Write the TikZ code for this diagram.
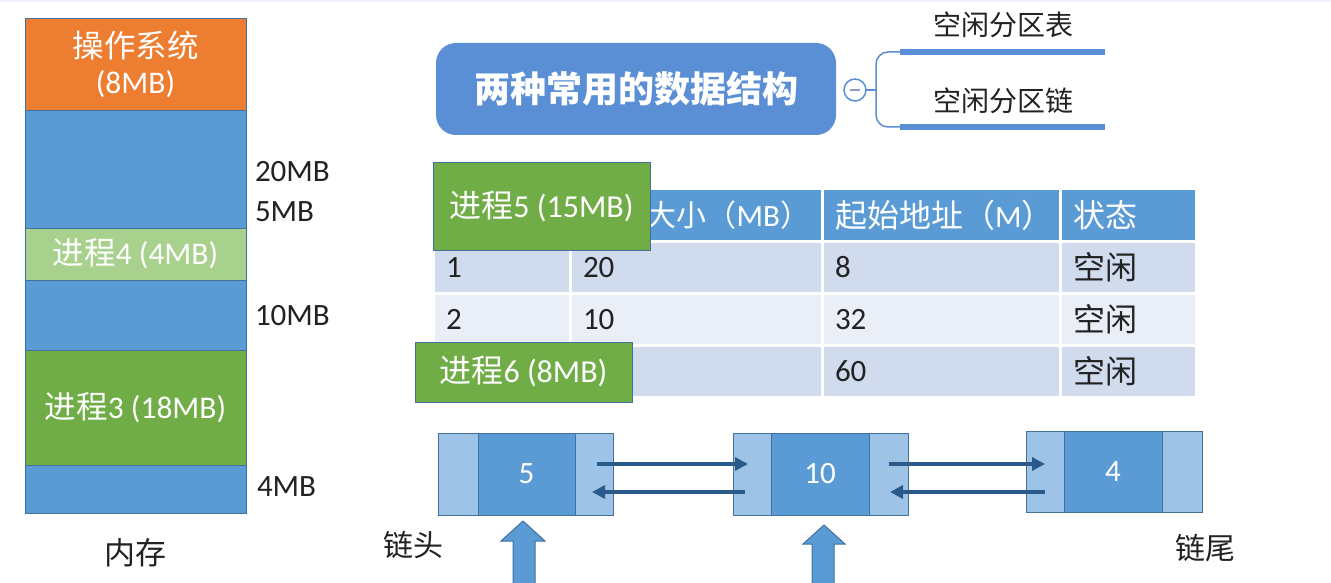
\documentclass[tikz,border=0pt]{standalone}
\usepackage{fontspec}
\setmainfont{Carlito}
\newfontfamily\cjk{Noto Sans CJK SC}
\usetikzlibrary{arrows.meta}
\definecolor{osor}{HTML}{ED7D31}
\definecolor{memblue}{HTML}{5B9BD5}
\definecolor{ltgreen}{HTML}{A9D18E}
\definecolor{dkgreen}{HTML}{70AD47}
\definecolor{edge}{HTML}{41719C}
\definecolor{mmblue}{HTML}{5A8FD5}
\definecolor{rowa}{HTML}{D0DBEE}
\definecolor{rowb}{HTML}{E9EEF7}
\definecolor{ltnode}{HTML}{9DC3E6}
\definecolor{ptr}{HTML}{2A5A8A}
\definecolor{txt}{HTML}{222222}
\definecolor{minus}{HTML}{8E9BBE}
\definecolor{topline}{HTML}{EEF2F8}
\newcommand\tcj[1]{{\cjk\fontsize{32}{36}\selectfont #1}}
\newcommand\tcjs[1]{{\cjk\fontsize{30}{36}\selectfont #1}}
\begin{document}
\begin{tikzpicture}[x=1pt,y=-1pt,
  every node/.style={inner sep=0pt,outer sep=0pt},
  blk/.style={draw=edge,line width=0.8pt,anchor=north west,minimum width=221pt,
    text=white,align=center,font=\fontsize{31.5}{36}\selectfont},
  lbl/.style={anchor=west,text=txt,font=\fontsize{31}{34}\selectfont},
  cell/.style={anchor=north west,inner xsep=11pt,align=left,
    font=\fontsize{31}{34}\selectfont},
  hd/.style={cell,fill=memblue,text=white,minimum height=50pt},
  ra/.style={cell,fill=rowa,text=txt,minimum height=49pt},
  rb/.style={cell,fill=rowb,text=txt,minimum height=49pt},
  proc/.style={draw=edge,line width=1pt,fill=dkgreen,anchor=north west,
    minimum width=217pt,text=white,font=\fontsize{32}{36}\selectfont},
  lnl/.style={draw=edge,line width=1pt,fill=ltnode,anchor=north west,minimum height=82pt},
  lnm/.style={draw=edge,line width=1pt,fill=memblue,anchor=north west,minimum height=82pt,
    text=white,font=\fontsize{31}{34}\selectfont},
  parr/.style={draw=ptr,line width=3.5pt,-{Triangle[length=13pt,width=13pt]}},
  bigarr/.style={draw=edge,line width=1pt,fill=memblue}
]
\useasboundingbox (0,0) rectangle (1331,583);
\clip (0,0) rectangle (1331,583);
\fill[white] (0,0) rectangle (1331,583);
\draw[topline,line width=2pt] (0,1) -- (1331,1);

% memory column
\node[blk,fill=osor,minimum height=92pt] (os) at (25,18) {{\cjk 操作系统}\\(8MB)};
\node[blk,fill=memblue,minimum height=118pt] (f1) at (25,110) {};
\node[blk,fill=ltgreen,minimum height=52pt] (p4) at (25,228) {{\cjk 进程}4 (4MB)};
\node[blk,fill=memblue,minimum height=70pt] (f2) at (25,280) {};
\node[blk,fill=dkgreen,minimum height=115pt] (p3) at (25,350) {{\cjk 进程}3 (18MB)};
\node[blk,fill=memblue,minimum height=48pt] (f3) at (25,465) {};
\node[lbl] (l20) at (255,172) {20MB};
\node[lbl] (l5) at (255,212) {5MB};
\node[lbl] (l10) at (255,316) {10MB};
\node[lbl] (l4) at (257,487) {4MB};
\node[text=txt,font=\cjk\fontsize{31}{34}\selectfont] (mem) at (135,553) {内存};

% mind map
\node[fill=mmblue,rounded corners=20pt,minimum width=400pt,minimum height=92pt,
  text=white,font=\cjk\bfseries\fontsize{36}{40}\selectfont] (mm) at (636,89) {两种常用的数据结构};
\node[circle,draw=mmblue,line width=1.5pt,fill=white,minimum size=22pt] (tog) at (855,90) {};
\draw[minus,line width=2pt] ([xshift=-5pt]tog.center) -- ([xshift=5pt]tog.center);
\coordinate (jn) at (876,90);
\coordinate (b1s) at (900,52);
\coordinate (b1e) at (1105,52);
\coordinate (b2s) at (900,127);
\coordinate (b2e) at (1105,127);
\draw[mmblue,line width=1.5pt] (tog.east) -- (jn);
\draw[mmblue,line width=1.5pt,rounded corners=12pt] (b1s) -| (jn) |- (b2s);
\draw[mmblue,line width=6pt] (b1s) -- (b1e);
\draw[mmblue,line width=6pt] (b2s) -- (b2e);
\node[text=txt,font=\cjk\fontsize{28}{30}\selectfont] (t1) at (1003,25) {空闲分区表};
\node[text=txt,font=\cjk\fontsize{28}{30}\selectfont] (t2) at (1003,101) {空闲分区链};

% table
\node[hd,text width=112pt] (h1) at (435,190) {};
\node[hd,text width=227pt,align=right] (h2) at (572,190) {\tcjs{大小（}MB\tcjs{）}};
\node[hd,text width=213pt] (h3) at (824,190) {\tcj{起始地址（}M\tcj{）}};
\node[hd,text width=111pt] (h4) at (1062,190) {\tcj{状态}};
\node[ra,text width=112pt] (a1) at (435,243) {1};
\node[ra,text width=227pt] (a2) at (572,243) {20};
\node[ra,text width=213pt] (a3) at (824,243) {8};
\node[ra,text width=111pt] (a4) at (1062,243) {\tcj{空闲}};
\node[rb,text width=112pt] (b1) at (435,295) {2};
\node[rb,text width=227pt] (b2) at (572,295) {10};
\node[rb,text width=213pt] (b3) at (824,295) {32};
\node[rb,text width=111pt] (b4) at (1062,295) {\tcj{空闲}};
\node[ra,text width=112pt] (c1) at (435,347) {};
\node[ra,text width=227pt] (c2) at (572,347) {};
\node[ra,text width=213pt] (c3) at (824,347) {60};
\node[ra,text width=111pt] (c4) at (1062,347) {\tcj{空闲}};

% processes 5, 6
\node[proc,minimum height=87pt] (p5) at (433,163) {\raisebox{-3pt}{{\cjk 进程}5 (15MB)}};
\node[proc,minimum height=60pt] (p6) at (415,342) {{\cjk 进程}6 (8MB)};

% linked list
\node[lnl,minimum width=40pt] (n1l) at (438,433) {};
\node[lnm,minimum width=97pt] (n1m) at (478,433) {5};
\node[lnl,minimum width=38pt] (n1r) at (575,433) {};
\node[lnl,minimum width=38pt] (n2l) at (733,433) {};
\node[lnm,minimum width=98pt] (n2m) at (771,433) {10};
\node[lnl,minimum width=39pt] (n2r) at (869,433) {};
\node[lnl,minimum width=38pt,minimum height=81pt] (n3l) at (1026,431) {};
\node[lnm,minimum width=98pt,minimum height=81pt] (n3m) at (1064,431) {4};
\node[lnl,minimum width=40pt,minimum height=81pt] (n3r) at (1162,431) {};

\draw[parr] ([xshift=3pt,yshift=10pt]n1r.center) -- ([xshift=-4pt,yshift=10pt]n2l.center);
\draw[parr] ([xshift=-7pt,yshift=-18pt]n2l.center) -- ([xshift=-2pt,yshift=-18pt]n1r.center);
\draw[parr] ([yshift=10pt]n2r.center) -- ([yshift=10pt]n2r.center -| n3l.center);
\draw[parr] ([yshift=-18pt]n2r.center -| n3l.center) -- ([xshift=1.5pt,yshift=-18pt]n2r.center);

\node[text=txt,font=\cjk\fontsize{30}{32}\selectfont] (head) at (413,545) {链头};
\node[text=txt,font=\cjk\fontsize{30}{32}\selectfont] (tail) at (1205,548) {链尾};

% big pointer arrows
\draw[bigarr] (523,521) -- (545,541) -- (535,541) -- (535,590) -- (513,590) -- (513,541) -- (501,541) -- cycle;
\draw[bigarr] (824,525) -- (845,544) -- (834,544) -- (834,590) -- (812,590) -- (812,544) -- (803,544) -- cycle;
\end{tikzpicture}
\end{document}
